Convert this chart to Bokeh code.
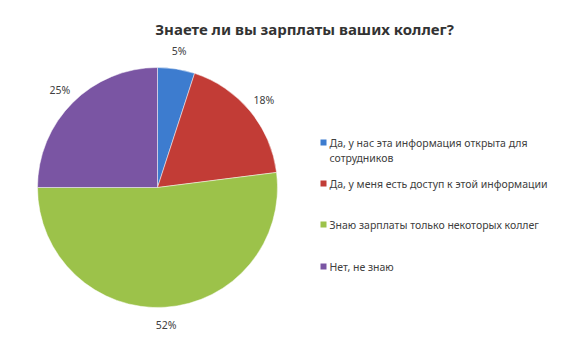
import numpy as np
from bokeh.plotting import figure
from bokeh.embed import file_html
from bokeh.resources import INLINE
from bokeh.core.properties import value
from bokeh.models import ColumnDataSource

title = "Знаете ли вы зарплаты ваших коллег?"
categories = [
    "Да, у нас эта информация открыта для\nсотрудников",
    "Да, у меня есть доступ к этой информации",
    "Знаю зарплаты только некоторых коллег",
    "Нет, не знаю",
]
shares = [5, 18, 52, 25]
pct_labels = ["5%", "18%", "52%", "25%"]
colors = ["#3d7ccf", "#c23c36", "#9cc24a", "#7a55a3"]

W, H = 576, 354
FONT = "Noto Sans"

p = figure(width=W, height=H, x_range=(0, W), y_range=(0, H),
           output_backend="svg", toolbar_location=None, min_border=0)
p.axis.visible = False
p.grid.visible = False
p.outline_line_color = None
p.background_fill_color = "white"

cx, cy, r = 157, H - 187, 120
frac = np.array(shares, dtype=float) / sum(shares)
cum = np.concatenate([[0], np.cumsum(frac)])
start = np.pi / 2 - cum[1:] * 2 * np.pi
end = np.pi / 2 - cum[:-1] * 2 * np.pi
mid = (start + end) / 2

src = ColumnDataSource(dict(start=start, end=end, color=colors))
p.wedge(x=cx, y=cy, radius=r, start_angle="start", end_angle="end",
        fill_color="color", line_color="white", line_alpha=0.6, line_width=0.8,
        source=src)

lr = 138
p.text(x=cx + lr * np.cos(mid), y=cy + lr * np.sin(mid), text=pct_labels,
       text_font=value(FONT), text_font_size="10.5px", text_color="#404040",
       text_align="center", text_baseline="middle")

p.text(x=[W / 2 + 16], y=[H - 28], text=[title], text_font=value(FONT),
       text_font_size="15px", text_font_style="bold", text_color="#333333",
       text_align="center", text_baseline="middle")

leg_y = [H - 142, H - 183, H - 224, H - 266]
p.rect(x=[323] * 4, y=leg_y, width=6, height=6, fill_color=colors,
       line_color=None)
p.text(x=[329] * 4, y=leg_y, text=categories, text_font=value(FONT),
       text_font_size="10.5px", text_color="#404040", text_align="left",
       text_baseline="top", y_offset=-7, text_line_height=1.1)

open("out.html", "w").write(file_html(p, INLINE))
